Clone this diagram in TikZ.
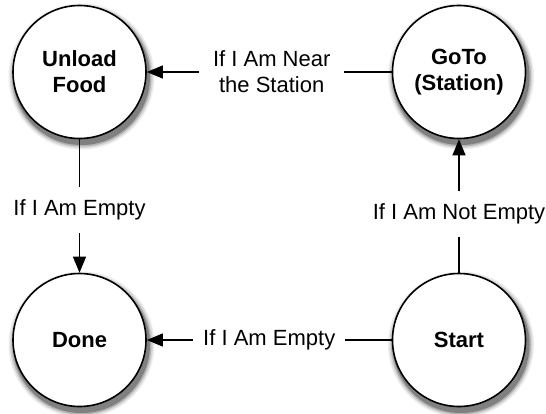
\documentclass[tikz,border=0pt]{standalone}
\usepackage{fontspec}
\setmainfont{Liberation Sans}
\usetikzlibrary{arrows.meta}
\begin{document}
\begin{tikzpicture}[x=1pt,y=-1pt,
  state/.style={circle,draw=black,line width=1.6pt,fill=white,minimum size=133pt,inner sep=0pt,
    align=center,font=\fontsize{22}{26}\selectfont\bfseries},
  shadowdisc/.style={circle,draw=none,inner sep=0pt,fill=#1},
  arr/.style={line width=1.1pt,-{Triangle[length=16pt,width=13pt]}},
  lbl/.style={fill=white,align=center,font=\fontsize{22}{26}\selectfont,inner xsep=10pt,inner ysep=13pt}]
\useasboundingbox (0,0) rectangle (546,413);
\fill[white] (0,0) rectangle (546,413);
\foreach \cx/\cy [count=\i] in {81.5/76.5,461/76.5,81.5/344.5,461/344.5}{
  \node[shadowdisc=black!7,minimum size=146pt]  (sa\i) at (\cx,\cy) {};
  \node[shadowdisc=black!16,minimum size=143pt] (sb\i) at (\cx,\cy) {};
  \node[shadowdisc=black!30,minimum size=140pt] (sc\i) at (\cx,\cy) {};
  \node[shadowdisc=black!50,minimum size=137pt] (sd\i) at (\cx,\cy) {};
}
\node[state] (unload) at (79.5,72) {Unload\\Food};
\node[state] (goto) at (459,72) {GoTo\\(Station)};
\node[state] (done) at (79.5,340) {Done};
\node[state] (start) at (459,340) {Start};
\draw[arr] (goto.west) -- node[lbl,pos=0.49,inner xsep=14pt]{If I Am Near\\the Station} (unload.east);
\draw[arr] (unload.south) -- node[lbl,pos=0.53]{If I Am Empty} (done.north);
\draw[arr] (start.west) -- node[lbl,pos=0.5]{If I Am Empty} (done.east);
\draw[arr] (start.north) -- node[lbl,pos=0.44]{If I Am Not Empty} (goto.south);
\end{tikzpicture}
\end{document}
